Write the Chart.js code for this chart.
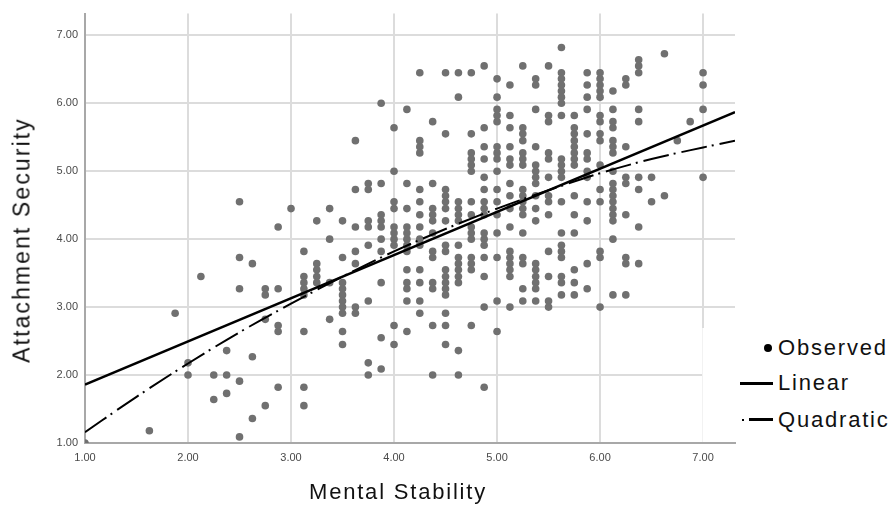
<!DOCTYPE html>
<html>
<head>
<meta charset="utf-8">
<script src="https://cdn.jsdelivr.net/npm/chart.js@4.4.1/dist/chart.umd.min.js"></script>
<style>
  body { margin: 0; background: #fff; }
  #wrap { position: relative; width: 893px; height: 508px; font-family: "Liberation Sans", Arial, sans-serif; }
  #chart { position: absolute; left: 0; top: 0; }
  .title { position: absolute; white-space: nowrap; color: #111; letter-spacing: 1.8px; }
  #ytitle { left: 22px; top: 240px; font-size: 23px; letter-spacing: 2.1px; transform: translate(-50%, -50%) rotate(-90deg); }
  #xtitle { left: 398px; top: 492px; font-size: 22px; transform: translate(-50%, -50%); }
  #legend { position: absolute; left: 702px; top: 328px; width: 191px; height: 114px; background: #fff; border-left: 1px solid #f2f2f2; }
  .row { position: absolute; left: 0; height: 26px; width: 191px; font-size: 22px; letter-spacing: 1.8px; color: #111; }
  .row span.label { position: absolute; left: 75px; top: 0; line-height: 26px; }
  .mark { position: absolute; background: #000; }
</style>
</head>
<body>
<div id="wrap">
  <canvas id="chart" width="893" height="508"></canvas>
  <div class="title" id="ytitle">Attachment Security</div>
  <div class="title" id="xtitle">Mental Stability</div>
  <div id="legend">
    <div class="row" style="top:7px">
      <div class="mark" style="left:61px;top:9px;width:8px;height:8px;border-radius:50%"></div>
      <span class="label">Observed</span>
    </div>
    <div class="row" style="top:42px">
      <div class="mark" style="left:37px;top:12px;width:33px;height:3px"></div>
      <span class="label">Linear</span>
    </div>
    <div class="row" style="top:79px">
      <div class="mark" style="left:39px;top:12px;width:2px;height:2px"></div>
      <div class="mark" style="left:46px;top:11px;width:24px;height:3px"></div>
      <span class="label">Quadratic</span>
    </div>
  </div>
</div>
<script>
// x positions of the observed columns (Mental Stability)
const xCols = [1.0, 1.625, 1.875, 2.0, 2.125, 2.25, 2.375, 2.5, 2.625, 2.75, 2.875, 3.0,
  3.125, 3.25, 3.375, 3.5, 3.625, 3.75, 3.875, 4.0, 4.125, 4.25, 4.375, 4.5, 4.625, 4.75,
  4.875, 5.0, 5.125, 5.25, 5.375, 5.5, 5.625, 5.75, 5.875, 6.0, 6.125, 6.25, 6.375, 6.5,
  6.625, 6.75, 6.875, 7.0];

// Attachment Security scores observed at each x above
const yCols = [
  [1.0],
  [1.18],
  [2.91],
  [2.18, 2.0],
  [3.45],
  [2.0, 1.64],
  [2.36, 2.0, 1.73],
  [4.55, 3.73, 3.27, 1.91, 1.09],
  [3.64, 2.27, 1.36],
  [3.27, 3.18, 2.82, 1.55],
  [4.18, 3.27, 2.73, 2.64, 1.82],
  [4.45],
  [3.82, 3.45, 3.36, 3.27, 3.18, 2.64, 1.82, 1.55],
  [4.27, 3.64, 3.55, 3.45, 3.36],
  [4.45, 4.0, 3.36, 2.82],
  [4.27, 3.73, 3.36, 3.27, 3.18, 3.09, 3.0, 2.91, 2.64, 2.45],
  [5.45, 4.73, 4.18, 3.82, 3.64, 3.0, 2.91],
  [4.82, 4.73, 4.27, 4.18, 3.91, 3.09, 2.18, 2.0],
  [6.0, 4.82, 4.36, 4.27, 4.18, 4.0, 3.82, 3.36, 2.55, 2.09],
  [5.64, 5.0, 4.55, 4.45, 4.18, 4.09, 4.0, 3.91, 2.73, 2.45],
  [5.91, 4.82, 4.45, 4.18, 4.09, 4.0, 3.91, 3.82, 3.55, 3.36, 3.27, 3.09, 2.64],
  [6.45, 5.45, 5.36, 5.27, 4.73, 4.55, 4.36, 4.18, 4.0, 3.91, 3.55, 3.36, 3.09, 2.91],
  [5.73, 4.82, 4.45, 4.36, 4.27, 4.09, 3.82, 3.73, 3.36, 3.27, 2.73, 2.0],
  [6.45, 5.55, 4.73, 4.64, 4.55, 4.45, 4.27, 3.91, 3.82, 3.55, 3.45, 3.36, 3.27, 3.18, 2.91, 2.73, 2.45],
  [6.45, 6.09, 4.55, 4.45, 4.36, 4.27, 3.91, 3.73, 3.64, 3.55, 3.45, 3.36, 2.36, 2.0],
  [6.45, 5.55, 5.27, 5.18, 5.09, 5.0, 4.55, 4.36, 4.18, 4.09, 4.0, 3.73, 3.64, 3.55, 2.73],
  [6.55, 5.64, 5.36, 5.18, 4.91, 4.73, 4.55, 4.45, 4.36, 4.09, 4.0, 3.91, 3.73, 3.45, 3.0, 1.82],
  [6.36, 6.09, 5.91, 5.82, 5.73, 5.36, 5.27, 5.18, 5.0, 4.73, 4.55, 4.36, 4.09, 3.73, 3.09, 2.64],
  [6.27, 5.82, 5.64, 5.36, 5.18, 5.09, 4.82, 4.64, 4.45, 4.18, 3.82, 3.73, 3.64, 3.55, 3.45, 3.0],
  [6.55, 5.64, 5.55, 5.45, 5.27, 5.18, 5.09, 4.73, 4.64, 4.55, 4.45, 4.36, 4.09, 3.73, 3.64, 3.27, 3.09],
  [6.36, 6.27, 5.91, 5.36, 5.09, 5.0, 4.91, 4.82, 4.64, 4.45, 4.27, 3.64, 3.55, 3.45, 3.36, 3.27, 3.09],
  [6.55, 5.82, 5.73, 5.27, 5.18, 4.91, 4.64, 4.55, 4.36, 3.82, 3.45, 3.09, 3.0],
  [6.82, 6.45, 6.36, 6.27, 6.18, 6.09, 6.0, 5.82, 5.18, 5.09, 5.0, 4.91, 4.55, 4.09, 3.91, 3.82, 3.73, 3.45, 3.36, 3.18],
  [5.82, 5.64, 5.55, 5.45, 5.36, 5.27, 5.18, 5.09, 4.64, 4.36, 4.09, 3.55, 3.36, 3.18],
  [6.45, 6.27, 6.09, 5.91, 5.55, 5.27, 5.18, 5.0, 4.91, 4.55, 4.27, 3.64, 3.27],
  [6.45, 6.36, 6.27, 6.18, 6.09, 5.82, 5.73, 5.55, 5.45, 5.09, 4.73, 4.55, 3.82, 3.73, 3.0],
  [6.18, 5.91, 5.73, 5.64, 5.45, 5.36, 5.27, 5.0, 4.82, 4.73, 4.64, 4.55, 4.45, 4.36, 4.27, 4.0, 3.18],
  [6.36, 6.27, 5.36, 4.91, 4.82, 4.36, 3.73, 3.64, 3.18],
  [6.64, 6.55, 6.45, 5.91, 5.73, 4.91, 4.73, 4.18, 3.64],
  [4.91, 4.55],
  [6.73, 4.64],
  [5.45],
  [5.73],
  [6.45, 6.27, 5.91, 4.91]
];

// fitted lines
const linX = [1.0, 7.31];
const linY = [1.86, 5.87];
const quadX = [1.0, 1.5, 2.0, 2.5, 3.0, 3.5, 4.0, 4.5, 5.0, 5.5, 6.0, 6.5, 7.0, 7.31];
const quadY = [1.16, 1.68, 2.17, 2.63, 3.05, 3.45, 3.82, 4.15, 4.45, 4.72, 4.97, 5.18, 5.35, 5.45];

const tickVals = [1, 2, 3, 4, 5, 6, 7];

let observed = [];
for (let i = 0; i < xCols.length; i++) {
  for (let j = 0; j < yCols[i].length; j++) {
    observed.push({ x: xCols[i], y: yCols[i][j] });
  }
}
const linear = linX.map((x, i) => ({ x: x, y: linY[i] }));
const quadratic = quadX.map((x, i) => ({ x: x, y: quadY[i] }));

const tickFont = { family: "'Liberation Sans', Arial, sans-serif", size: 11 };

new Chart(document.getElementById('chart').getContext('2d'), {
  type: 'scatter',
  data: {
    datasets: [
      {
        label: 'Linear',
        type: 'line',
        data: linear,
        borderColor: '#000',
        borderWidth: 2.5,
        pointRadius: 0,
        order: 1
      },
      {
        label: 'Quadratic',
        type: 'line',
        data: quadratic,
        borderColor: '#000',
        borderWidth: 2,
        borderDash: [26, 5, 2, 6],
        pointRadius: 0,
        cubicInterpolationMode: 'monotone',
        order: 2
      },
      {
        label: 'Observed',
        data: observed,
        backgroundColor: 'rgb(112,112,112)',
        borderWidth: 0,
        pointRadius: 3.8,
        order: 3
      }
    ]
  },
  options: {
    responsive: false,
    animation: false,
    layout: { padding: { left: 0, right: 158, top: 7, bottom: 0 } },
    plugins: { legend: { display: false }, tooltip: { enabled: false } },
    scales: {
      x: {
        type: 'linear',
        min: 1,
        max: 7.31,
        afterBuildTicks: (s) => { s.ticks = tickVals.map(v => ({ value: v })); },
        afterFit: (s) => { s.height = 65; },
        grid: { color: '#dcdcdc', lineWidth: 2, drawTicks: false },
        border: { color: '#a8a8a8', width: 2 },
        ticks: {
          padding: 8,
          color: '#4a4a4a',
          font: tickFont,
          maxRotation: 0,
          callback: (v) => Number(v).toFixed(2)
        }
      },
      y: {
        type: 'linear',
        min: 1,
        max: 7.32,
        afterBuildTicks: (s) => { s.ticks = tickVals.map(v => ({ value: v })); },
        afterFit: (s) => { s.width = 85; },
        grid: { color: '#dcdcdc', lineWidth: 2, drawTicks: false },
        border: { color: '#a8a8a8', width: 2 },
        ticks: {
          padding: 7,
          color: '#4a4a4a',
          font: tickFont,
          callback: (v) => Number(v).toFixed(2)
        }
      }
    }
  }
});
</script>
</body>
</html>
